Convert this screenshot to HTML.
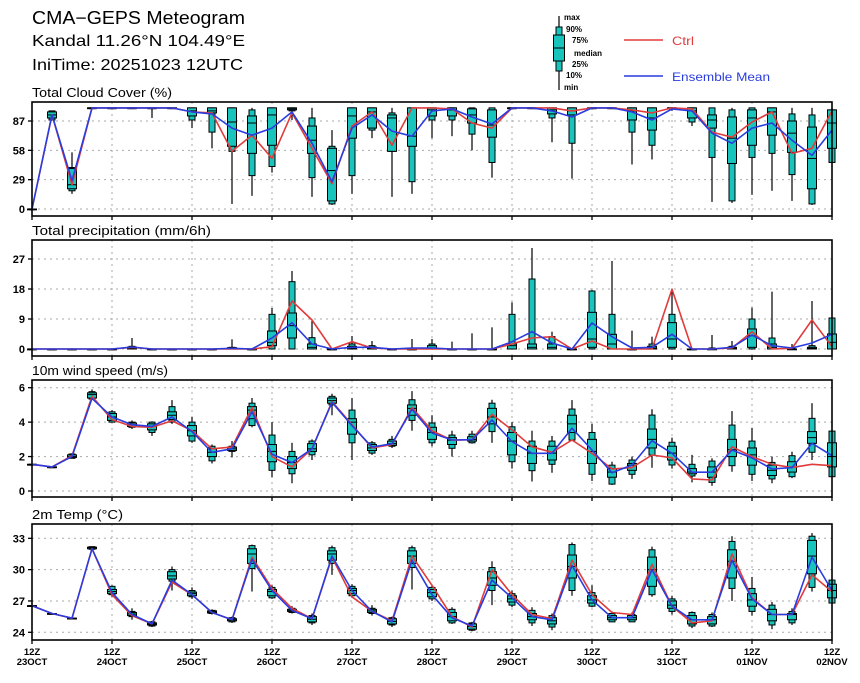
<!DOCTYPE html>
<html><head><meta charset="utf-8"><style>
body{margin:0;background:#fff;width:860px;height:678px;overflow:hidden;font-family:"Liberation Sans",sans-serif}
svg text{font-family:"Liberation Sans",sans-serif}
</style></head><body>
<svg id="chart" width="860" height="678" viewBox="0 0 860 678" xmlns="http://www.w3.org/2000/svg">
<text x="32" y="24" font-size="18" textLength="213" lengthAdjust="spacingAndGlyphs">CMA−GEPS Meteogram</text>
<text x="32" y="46" font-size="16" textLength="213" lengthAdjust="spacingAndGlyphs">Kandal 11.26°N 104.49°E</text>
<text x="32" y="70" font-size="16" textLength="211" lengthAdjust="spacingAndGlyphs">IniTime: 20251023 12UTC</text>
<g>
<line x1="559" y1="16" x2="559" y2="90" stroke="#000" stroke-width="1.2"/>
<rect x="556" y="27" width="6" height="44" fill="#19c4bc" stroke="#000"/>
<rect x="553.5" y="35" width="11" height="26" fill="#19c4bc" stroke="#000"/>
<line x1="553.5" y1="48" x2="564.5" y2="48" stroke="#000"/>
<g font-size="8" font-weight="bold">
<text x="564" y="20">max</text><text x="566" y="32">90%</text><text x="572" y="43">75%</text>
<text x="574" y="56">median</text><text x="572" y="67">25%</text><text x="566" y="78">10%</text><text x="564" y="90">min</text>
</g>
<line x1="624" y1="40" x2="663" y2="40" stroke="#e03c3c" stroke-width="1.5"/>
<text x="672" y="45" font-size="12" fill="#e03c3c" textLength="22" lengthAdjust="spacingAndGlyphs">Ctrl</text>
<line x1="624" y1="76" x2="663" y2="76" stroke="#2a3ce0" stroke-width="1.5"/>
<text x="672" y="81" font-size="12" fill="#2a3ce0" textLength="98" lengthAdjust="spacingAndGlyphs">Ensemble Mean</text>
</g>
</svg>
<script>
const dayLabels=["23OCT","24OCT","25OCT","26OCT","27OCT","28OCT","29OCT","30OCT","31OCT","01NOV","02NOV"];
const ccMin=[0,88,15,100,100,100,90,100,80,60,5,13,36,88,12,4,15,70,12,15,70,72,58,31,100,100,66,30,100,100,44,49,97,82,7,6,14,18,8,4,46];
const ccP10=[0,88,18,100,100,100,100,100,88,76,57,33,42,97,31,5,33,78,57,27,88,88,74,46,100,100,90,65,100,100,76,63,99,86,51,8,51,55,34,5,46];
const ccP25=[0,90,20,100,100,100,100,100,92,95,62,55,63,98,55,8,70,80,57,62,92,92,85,71,100,100,94,93,100,100,88,78,99,90,80,45,63,73,56,20,60];
const ccMed=[0,93,24,100,100,100,100,100,97,97,86,85,93,99,68,38,92,96,90,72,98,98,93,83,100,100,98,97,100,100,97,90,100,97,88,70,90,96,75,50,85];
const ccP75=[0,96,40,100,100,100,100,100,100,100,100,92,100,100,82,60,100,100,93,100,100,100,99,98,100,100,100,100,100,100,100,100,100,100,93,91,98,100,87,81,98];
const ccP90=[0,97,41,100,100,100,100,100,100,100,100,98,100,100,90,62,100,100,95,100,100,100,100,100,100,100,100,100,100,100,100,100,100,100,100,98,100,100,94,93,98];
const ccMax=[0,97,56,100,100,100,100,100,100,100,100,100,100,100,100,78,100,100,100,100,100,100,100,100,100,100,100,100,100,100,100,100,100,100,100,100,100,100,100,100,100];
const ccCtrl=[0,93,24,100,100,100,100,100,96,95,57,73,50,95,60,25,82,96,63,100,100,99,85,80,100,100,100,97,100,100,98,95,100,99,76,71,86,96,55,60,97];
const ccMean=[0,93,28,100,100,100,100,100,96,94,80,73,80,96,65,27,80,93,77,72,97,99,91,84,100,100,97,91,100,100,96,88,99,97,75,65,80,85,68,53,78];
const prMin=[0,0,0,0,0,0,0,0,0,0,0,0,0,0,0,0,0,0,0,0,0,0,0,0,0,0,0,0,0,0,0,0,0,0,0,0,0,0,0,0,0];
const prP10=[0,0,0,0,0,0,0,0,0,0,0,0,0,0,0,0,0,0,0,0,0,0,0,0,0,0,0,0,0,0,0,0,0,0,0,0,0,0,0,0,0];
const prP25=[0,0,0,0,0,0,0,0,0,0,0,0,1,3.3,0,0,0,0,0,0,0,0,0,0,0,0,0,0,0.5,0,0,0,0.5,0,0,0,0.5,0,0,0,0];
const prMed=[0,0,0,0,0,0.3,0,0,0,0,0.2,0,2,7,0.5,0,0.3,0.2,0,0,0.3,0,0,0,1,0.5,0.5,0,3,1.5,0,0.3,3,0,0,0.2,4,0.5,0,0.2,2];
const prP75=[0,0,0,0,0,0.6,0,0,0,0,0.4,0,5.4,10.8,1.5,0,0.8,0.6,0,0,1,0,0,0,1.5,1.5,1.5,0,11,4.4,0,0.8,7.9,0,0,0.5,6,1.5,0,0.5,4.5];
const prP90=[0,0,0,0,0,0.8,0,0,0,0,0.5,0,10.4,20.2,3.4,0,1.5,1,0,0,1.5,0,0,0,10.4,21,3.7,0,17.4,10.4,0,1.5,10.4,0,0.3,0.8,9,3.3,0.2,1,9.3];
const prMax=[0,0,0,0,0,3.3,0,0,0,0,2.9,0,12.3,23.4,8.4,0,3.9,2.4,0,3,3,2.2,4.7,6.5,14,30.3,5.2,0,17.7,26.4,5.5,3.7,17.7,0.2,4.2,2.4,12.4,17.2,1.5,14.4,9.3];
const prCtrl=[0,0,0,0,0,0.5,0,0,0,0,0,0,0.7,14.4,8.7,0,2.2,0.3,0,0,0,0,0,0,1.5,3.3,3.7,0,2.4,0,0,0,17.9,0,0,0.3,5.2,0,0.2,8.7,0.7];
const prMean=[0,0,0,0,0,0.6,0,0,0,0,0.2,0,3.3,7.9,1.5,0,0.5,0.5,0,0.3,0.3,0,0,0,2.2,5.2,1.8,0,7.8,3.7,0.3,0.5,4.4,0,0,0.5,4.2,1,0.3,1.8,4.4];
const wsMin=[1.55,1.4,1.9,5.3,4.0,3.6,3.2,3.9,2.8,1.6,1.95,3.7,0.8,0.45,1.8,4.4,1.8,2.1,2.5,3.5,2.6,2.0,2.75,2.8,1.3,0.55,1.06,2.9,0.58,0.35,0.7,1.35,1.3,0.5,0.3,1.12,0.58,0.45,0.75,1.8,0.8];
const wsP10=[1.55,1.4,1.9,5.34,4.0,3.7,3.4,4.0,2.9,1.75,2.3,3.8,1.2,1.0,2.1,5.0,2.8,2.2,2.6,4.1,2.8,2.48,2.8,3.45,1.7,1.18,1.55,2.96,0.97,0.4,0.97,2.09,1.51,0.87,0.5,1.47,0.97,0.7,0.83,2.25,0.83];
const wsP25=[1.55,1.4,1.95,5.4,4.1,3.75,3.55,4.15,3.2,2.0,2.35,4.2,1.7,1.3,2.3,5.1,3.3,2.35,2.65,4.4,3.0,2.7,2.9,3.9,2.1,1.6,1.8,3.4,1.6,0.8,1.2,2.5,1.8,1.0,0.8,2.0,1.5,0.9,1.1,2.77,1.4];
const wsMed=[1.55,1.4,2.0,5.6,4.3,3.85,3.75,4.4,3.5,2.25,2.45,4.7,2.3,1.65,2.45,5.25,4.0,2.5,2.75,4.8,3.4,2.95,3.0,4.3,2.9,2.2,2.2,3.9,2.3,1.1,1.5,3.0,2.2,1.1,1.1,2.4,2.1,1.2,1.4,3.1,2.0];
const wsP75=[1.55,1.4,2.1,5.7,4.5,3.95,3.9,4.6,3.8,2.45,2.55,4.9,2.7,2.0,2.75,5.4,4.2,2.7,2.9,5.0,3.7,3.1,3.15,4.8,3.4,2.6,2.6,4.4,3.0,1.3,1.6,3.6,2.6,1.3,1.4,3.0,2.5,1.5,1.7,3.45,2.8];
const wsP90=[1.55,1.4,2.15,5.77,4.6,4.0,4.0,4.9,4.0,2.6,2.6,5.1,3.25,2.3,2.9,5.5,4.7,2.8,3.0,5.3,3.95,3.25,3.3,5.1,3.73,2.9,2.9,4.76,3.4,1.5,1.8,4.41,2.83,1.55,1.74,3.83,2.9,1.66,2.05,4.22,3.48];
const wsMax=[1.55,1.4,2.2,5.9,4.7,4.1,4.05,5.28,4.3,2.7,2.9,5.4,4.0,2.8,3.0,5.65,5.4,2.9,3.2,5.8,4.4,3.5,3.5,5.3,4.0,3.5,3.2,5.28,3.9,1.7,2.0,4.75,3.1,2.1,1.9,4.64,3.67,2.0,2.28,5.1,3.5];
const wsCtrl=[1.55,1.4,2.05,5.5,4.15,3.75,3.7,4.08,3.5,2.45,2.55,4.85,2.0,1.4,2.45,5.2,3.85,2.5,2.7,4.85,3.5,2.95,2.98,4.45,3.55,2.57,2.25,2.96,2.19,1.28,1.36,2.09,1.93,0.7,0.64,2.57,2.0,1.55,1.36,1.55,1.47];
const wsMean=[1.55,1.4,2.0,5.38,4.3,3.85,3.75,4.3,3.45,2.25,2.45,4.6,2.13,1.65,2.45,5.15,3.8,2.55,2.75,4.75,3.37,2.96,2.98,4.12,2.87,2.19,2.19,3.65,2.38,1.06,1.51,2.92,2.19,1.09,1.09,2.38,1.92,1.28,1.36,2.77,2.05];
const tMin=[26.55,25.8,25.35,31.9,27.4,25.2,24.5,28.0,27.2,25.7,24.9,27.9,27.2,25.8,24.7,29.5,27.3,25.6,24.5,28.1,27.0,24.8,24.1,26.6,26.4,24.6,24.2,27.5,26.4,25.0,25.0,27.4,25.7,24.4,24.5,27.0,25.6,24.3,24.7,27.9,26.8];
const tP10=[26.55,25.8,25.35,31.95,27.6,25.5,24.6,28.9,27.4,25.8,25.0,30.1,27.3,25.9,24.9,30.6,27.5,25.8,24.7,30.2,27.2,24.9,24.2,28.0,26.6,24.9,24.5,28.0,26.5,25.0,25.0,27.6,26.0,24.6,24.6,28.2,26.0,24.7,24.9,28.3,26.8];
const tP25=[26.55,25.8,25.35,32.0,27.7,25.6,24.7,29.1,27.5,25.85,25.1,30.6,27.5,26.0,25.0,30.9,27.7,25.9,24.8,30.6,27.4,25.1,24.3,28.5,26.9,25.2,24.8,29.2,26.8,25.2,25.2,28.4,26.3,24.8,24.8,29.2,26.5,25.1,25.2,29.6,27.3];
const tMed=[26.55,25.8,25.35,32.1,27.9,25.75,24.8,29.4,27.7,25.95,25.2,31.5,27.9,26.1,25.25,31.5,28.0,26.05,25.05,31.3,27.8,25.5,24.55,29.2,27.2,25.5,25.1,30.3,27.1,25.4,25.4,30.0,26.6,25.2,25.2,30.8,27.1,25.7,25.7,31.3,28.0];
const tP75=[26.55,25.8,25.35,32.15,28.1,25.9,24.9,29.8,27.85,26.05,25.3,32.0,28.1,26.2,25.5,31.8,28.2,26.2,25.3,31.8,28.1,25.9,24.8,29.8,27.5,25.8,25.4,31.4,27.5,25.6,25.6,31.2,27.0,25.6,25.5,31.9,27.7,26.2,25.8,32.8,28.6];
const tP90=[26.55,25.8,25.35,32.2,28.4,26.0,25.0,30.0,28.0,26.1,25.4,32.3,28.3,26.3,25.6,32.1,28.4,26.3,25.4,32.1,28.3,26.2,24.9,30.2,27.7,26.1,25.6,32.4,27.8,25.8,25.7,31.9,27.2,25.9,25.7,32.7,28.2,26.6,26.0,33.2,29.0];
const tMax=[26.55,25.8,25.35,32.2,28.5,26.3,25.1,30.3,28.3,26.2,25.5,32.4,28.5,26.5,25.8,32.3,28.6,26.6,25.5,32.3,28.5,26.4,25.0,30.8,28.0,26.4,25.8,32.6,28.5,26.0,25.9,32.2,27.5,26.0,25.9,33.2,29.3,26.9,26.3,33.5,29.0];
const tCtrl=[26.55,25.8,25.35,32.0,27.6,25.6,24.8,28.8,27.6,25.9,25.2,31.2,28.2,26.3,25.3,31.2,27.4,26.0,25.1,31.3,28.5,25.5,24.5,30.0,27.6,25.7,25.3,30.9,27.6,25.9,25.7,30.5,26.5,24.9,25.1,31.5,27.3,25.7,25.7,29.5,27.9];
const tMean=[26.55,25.8,25.35,32.0,27.8,25.7,24.8,29.0,27.6,25.9,25.2,31.0,28.0,26.1,25.3,31.3,28.0,26.0,25.0,30.9,27.6,25.4,24.6,29.0,27.3,25.5,25.2,30.4,27.1,25.4,25.4,30.0,26.5,25.2,25.2,30.9,27.2,25.7,25.7,31.2,28.0];

const NS="http://www.w3.org/2000/svg";
const svg=document.getElementById('chart');
const X0=32,X1=832,NT=40;
function xOf(t){return X0+(X1-X0)*t/NT;}
function mk(tag,attrs,parent){const e=document.createElementNS(NS,tag);for(const k in attrs)e.setAttribute(k,attrs[k]);(parent||svg).appendChild(e);return e;}

const panels=[
 {key:'cloud',title:'Total Cloud Cover (%)',tw:140,top:102,bot:216,vmin:0,vmax:87,ymin:209,ymax:121,ticks:[0,29,58,87],
  d:[ccMin,ccP10,ccP25,ccMed,ccP75,ccP90,ccMax],ctrl:ccCtrl,mean:ccMean},
 {key:'precip',title:'Total precipitation (mm/6h)',tw:179,top:240,bot:356,vmin:0,vmax:27,ymin:349,ymax:259,ticks:[0,9,18,27],
  d:[prMin,prP10,prP25,prMed,prP75,prP90,prMax],ctrl:prCtrl,mean:prMean},
 {key:'wind',title:'10m wind speed (m/s)',tw:136,top:380,bot:497,vmin:0,vmax:6,ymin:491,ymax:387.7,ticks:[0,2,4,6],
  d:[wsMin,wsP10,wsP25,wsMed,wsP75,wsP90,wsMax],ctrl:wsCtrl,mean:wsMean},
 {key:'temp',title:'2m Temp (°C)',tw:91,top:524,bot:640,vmin:24,vmax:33,ymin:632.3,ymax:538.3,ticks:[24,27,30,33],
  d:[tMin,tP10,tP25,tMed,tP75,tP90,tMax],ctrl:tCtrl,mean:tMean}
];

panels.forEach(p=>{
  const y=v=>p.ymin+(v-p.vmin)*(p.ymax-p.ymin)/(p.vmax-p.vmin);
  const g=mk('g',{});
  
  
  const ttl=mk('text',{x:32,y:p.top-5,'font-size':12.5,textLength:p.tw,lengthAdjust:'spacingAndGlyphs'},g);
  ttl.textContent=p.title;
  
  
  for(let d=1;d<10;d++){const gx=xOf(d*4);const l=mk('line',{x1:gx,x2:gx,y1:p.top,y2:p.bot,stroke:'#aaa','stroke-dasharray':'2,4','stroke-width':1},g);
    }
  p.ticks.forEach(tv=>{const ty=y(tv);
    const l=mk('line',{x1:X0,x2:X1,y1:ty,y2:ty,stroke:'#aaa','stroke-dasharray':'2,4','stroke-width':1},g);
    
    mk('line',{x1:X0-4,x2:X0,y1:ty,y2:ty,stroke:'#000','stroke-width':1.3},g);
    const lb=mk('text',{x:X0-7,y:ty+4,'font-size':11,'font-weight':'bold','text-anchor':'end'},g);
    lb.textContent=tv;
    
  });
  const [mn,p10,p25,md,p75,p90,mx]=p.d;
  for(let t=0;t<=NT;t++){
    const cx=xOf(t);
    const bx=mk('g',{},g);
    
    
    mk('line',{x1:cx,x2:cx,y1:y(mn[t]),y2:y(mx[t]),stroke:'#000','stroke-width':1.2},bx);
    mk('rect',{x:cx-3,y:y(p90[t]),width:6,height:Math.max(0.8,y(p10[t])-y(p90[t])),fill:'#19c4bc',stroke:'#000','stroke-width':1},bx);
    mk('rect',{x:cx-4.5,y:y(p75[t]),width:9,height:Math.max(0.8,y(p25[t])-y(p75[t])),fill:'#19c4bc',stroke:'#000','stroke-width':1},bx);
    mk('line',{x1:cx-4.5,x2:cx+4.5,y1:y(md[t]),y2:y(md[t]),stroke:'#000','stroke-width':1},bx);
  }
  const line=(arr,col,name)=>{let s='';arr.forEach((v,t)=>{s+=(t?'L':'M')+xOf(t).toFixed(1)+','+y(v).toFixed(1);});
    const pth=mk('path',{d:s,fill:'none',stroke:col,'stroke-width':1.6,'stroke-linejoin':'round'},g);
    };
  line(p.ctrl,'#e03c3c',p.key+'-ctrl-line');
  line(p.mean,'#2a3ce0',p.key+'-mean-line');
  const fr=mk('rect',{x:X0,y:p.top,width:X1-X0,height:p.bot-p.top,fill:'none',stroke:'#000','stroke-width':1.6},g);
  
  for(let d=0;d<=10;d++){const gx=xOf(d*4);mk('line',{x1:gx,x2:gx,y1:p.bot,y2:p.bot+4,stroke:'#000','stroke-width':1.3},g);}
});
dayLabels.forEach((lbl,d)=>{
  const gx=xOf(d*4);
  const a=mk('text',{x:gx,y:655,'font-size':9.5,'font-weight':'bold','text-anchor':'middle'});
  a.textContent='12Z';
  
  const b=mk('text',{x:gx,y:665,'font-size':9.5,'font-weight':'bold','text-anchor':'middle'});
  b.textContent=lbl;
  
});
</script>
</body></html>
